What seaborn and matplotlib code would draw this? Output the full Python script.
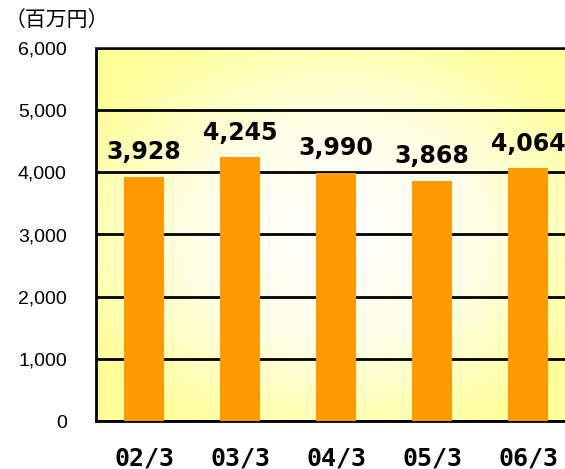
import numpy as np
import pandas as pd
import matplotlib
matplotlib.use('Agg')
import matplotlib.pyplot as plt
from matplotlib.colors import LinearSegmentedColormap
import seaborn as sns

# data
periods = ['02/3', '03/3', '04/3', '05/3', '06/3']
sales = [3928, 4245, 3990, 3868, 4064]
y_ticks = [0, 1000, 2000, 3000, 4000, 5000, 6000]

df = pd.DataFrame({'period': periods, 'sales': sales})

sns.set_style('white')
plt.rcParams['font.family'] = ['Liberation Sans', 'DejaVu Sans']
plt.rcParams['text.color'] = 'black'
plt.rcParams['xtick.color'] = 'black'
plt.rcParams['ytick.color'] = 'black'

fig = plt.figure(figsize=(5.65, 4.69), dpi=100)
# axes runs past the right edge of the picture, as in the original
ax = fig.add_axes([96 / 565, 48 / 469, 480 / 565, 373 / 469])

# radial gradient background: white in the middle, pale yellow outside
yy, xx = np.mgrid[0:1:300j, 0:1:300j]
cx, cy = 0.5, 0.5
r = np.sqrt(((xx - cx) / 0.6) ** 2 + ((yy - cy) / 0.6) ** 2)
r = np.clip(r, 0, 1)
cmap = LinearSegmentedColormap.from_list('bg', ['#ffffff', '#fffee6', '#ffff99'])
ax.imshow(r, cmap=cmap, extent=[0, 1, 0, 1], transform=ax.transAxes,
          aspect='auto', origin='lower', zorder=0)

sns.barplot(data=df, x='period', y='sales', color='#ff9900', width=0.41,
            saturation=1, linewidth=0, ax=ax, zorder=3)

ax.set_xlim(-0.5, 4.5)
ax.set_ylim(0, 6000)
ax.set_yticks(y_ticks)
ax.set_yticklabels([f'{v:,}' for v in y_ticks], fontsize=14)
ax.yaxis.grid(True, color='black', linewidth=2)
ax.set_axisbelow(False)
for ln in ax.get_ygridlines():
    ln.set_zorder(2)

ax.set_xlabel('')
ax.set_ylabel('')
ax.tick_params(axis='y', length=0, pad=21)
ax.tick_params(axis='x', which='major', length=0, pad=18)
ax.set_xticks([0.5, 1.5, 2.5, 3.5], minor=True)
ax.tick_params(axis='x', which='minor', direction='in', length=5, width=1.5, color='black')
for lab in ax.get_xticklabels():
    lab.set_family('DejaVu Sans Mono')
    lab.set_fontweight('bold')
    lab.set_fontsize(18)

for s in ['left', 'bottom']:
    ax.spines[s].set_color('black')
    ax.spines[s].set_linewidth(2)
ax.spines['top'].set_color('#444444')
ax.spines['top'].set_linewidth(1.5)
ax.spines['right'].set_visible(False)

# value labels
for i, v in enumerate(sales):
    ax.annotate(f'{v:,}', (i, v), xytext=(0, 9), textcoords='offset points',
                ha='center', va='bottom', fontsize=17, fontweight='bold',
                family='DejaVu Sans', color='black', zorder=5)

fig.text(5 / 565, 1 - 20 / 469, '（百万円）', fontsize=15, va='center', ha='left',
         family=['Noto Sans CJK JP', 'DejaVu Sans'], color='black')

fig.savefig('out.png', dpi=100)
